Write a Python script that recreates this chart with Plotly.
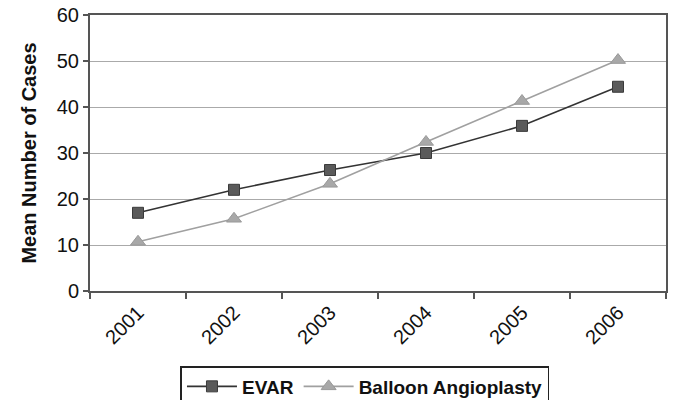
import plotly.graph_objects as go

years = ["2001", "2002", "2003", "2004", "2005", "2006"]
evar = [17.0, 22.0, 26.3, 30.0, 35.9, 44.4]
balloon = [10.7, 15.7, 23.3, 32.4, 41.3, 50.2]

FONT = "Liberation Sans, Arial, sans-serif"

fig = go.Figure()
fig.add_trace(go.Scatter(
    x=years, y=evar, name="EVAR", mode="lines+markers",
    line=dict(color="#333333", width=1.6),
    marker=dict(symbol="square", size=11, color="#5a5a5a", line=dict(color="#3a3a3a", width=1)),
))
fig.add_trace(go.Scatter(
    x=years, y=balloon, name="Balloon Angioplasty", mode="lines+markers",
    line=dict(color="#a0a0a0", width=1.6),
    marker=dict(symbol="triangle-up", size=13, color="#a8a8a8", line=dict(color="#999999", width=1)),
))

fig.update_layout(
    width=674, height=400,
    margin=dict(l=90, r=8, t=15, b=109, autoexpand=False),
    paper_bgcolor="white", plot_bgcolor="white",
    font=dict(family=FONT, color="#111111"),
    showlegend=True,
    legend=dict(
        orientation="h", xref="container", yref="container",
        x=0.5415, xanchor="center", y=0.085, yanchor="top",
        bordercolor="#222222", borderwidth=1.5,
        font=dict(size=19, family=FONT, weight="bold", color="#111111"),
        itemwidth=50, tracegroupgap=0,
    ),
    xaxis=dict(
        type="category", tickson="boundaries", ticks="outside", ticklen=6,
        tickcolor="#555555", tickwidth=1.5, automargin=False,
        tickangle=-45, tickfont=dict(size=20, color="#111111"),
        showline=True, linecolor="#555555", linewidth=2, mirror=True,
        showgrid=False, range=[-0.5, 5.5],
    ),
    yaxis=dict(
        range=[0, 60], dtick=10, ticks="outside", ticklen=5,
        tickcolor="#555555", tickwidth=1.5, automargin=False,
        tickfont=dict(size=20, color="#111111"),
        showline=True, linecolor="#555555", linewidth=2, mirror=True,
        showgrid=True, gridcolor="#aaaaaa", gridwidth=1, zeroline=False,
        title=dict(text="<b>Mean Number of Cases</b>", font=dict(size=20, color="#111111")),
    ),
)

fig.write_html("out.html")
